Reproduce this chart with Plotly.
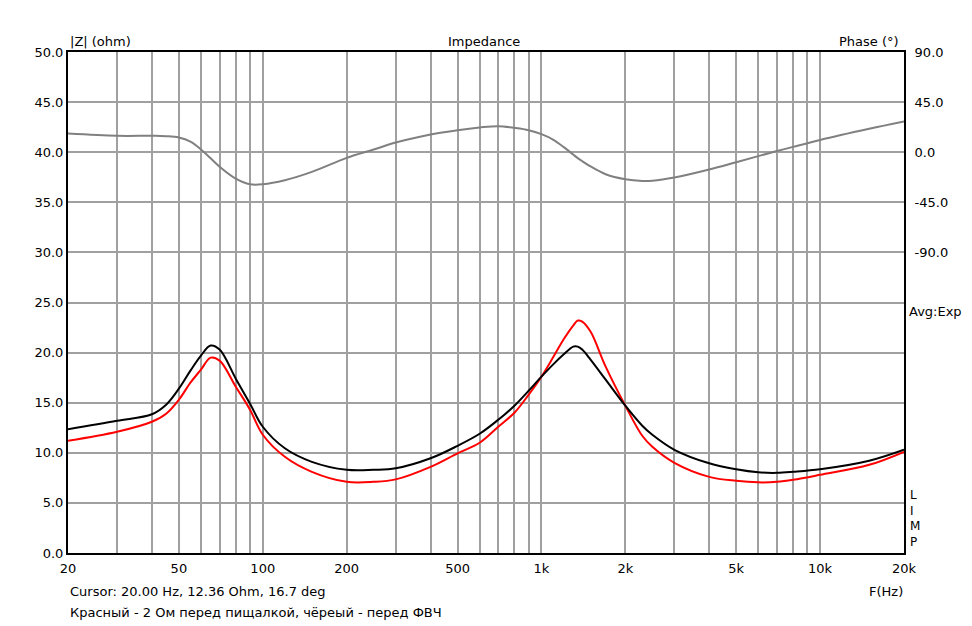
import plotly.graph_objects as go

freq = [20, 30, 40, 45, 50, 55, 60, 65, 70, 80, 90, 100, 120, 150, 200, 250, 300, 400, 500, 600, 700, 800, 900,
        1000, 1100, 1200, 1300, 1350, 1400, 1500, 1700, 2000, 2300, 2500, 3000, 4000, 5000, 6000, 7000, 8000,
        10000, 15000, 20000]
z_black = [12.36, 13.2, 13.85, 14.8, 16.4, 18.2, 19.7, 20.7, 20.3, 17.4, 14.9, 12.6, 10.45, 9.1, 8.3, 8.3, 8.45,
           9.45, 10.7, 11.9, 13.3, 14.7, 16.2, 17.6, 18.8, 19.8, 20.6, 20.6, 20.3, 19.3, 17.3, 14.7, 12.7, 11.8,
           10.3, 8.95, 8.35, 8.05, 8.0, 8.1, 8.35, 9.2, 10.3]
z_red = [11.2, 12.1, 13.1, 13.9, 15.3, 17.0, 18.3, 19.5, 19.2, 16.6, 14.3, 11.8, 9.6, 8.1, 7.1, 7.1, 7.35,
         8.6, 9.95, 11.0, 12.6, 14.0, 15.8, 17.6, 19.5, 21.3, 22.7, 23.2, 23.1, 22.1, 18.6, 14.7, 11.7, 10.6,
         9.0, 7.6, 7.2, 7.05, 7.1, 7.3, 7.8, 8.8, 10.1]
phase = [16.7, 14.7, 14.7, 14.4, 13.2, 9.5, 2.5, -5.5, -13.0, -23.7, -28.8, -28.8, -25.2, -17.7, -5.1, 2.4, 8.7,
         15.9, 19.8, 22.2, 23.4, 21.9, 19.8, 16.2, 11.4, 4.8, -2.1, -5.3, -8.0, -12.8, -19.8, -24.3, -25.8, -25.6,
         -22.8, -15.6, -9.0, -3.5, 1.0, 4.8, 11.0, 21.0, 27.6]

grid_f = [20, 30, 40, 50, 60, 70, 80, 90, 100, 200, 300, 400, 500, 600, 700, 800, 900,
          1000, 2000, 3000, 4000, 5000, 6000, 7000, 8000, 9000, 10000, 20000]
label_map = {20: "20", 50: "50", 100: "100", 200: "200", 500: "500", 1000: "1k", 2000: "2k",
             5000: "5k", 10000: "10k", 20000: "20k"}
grid_text = [label_map.get(f, "") for f in grid_f]
z_ticks = [0, 5, 10, 15, 20, 25, 30, 35, 40, 45, 50]
phase_ticks = [90, 45, 0, -45, -90]

FONT = "DejaVu Sans, Verdana, sans-serif"

fig = go.Figure()
fig.add_trace(go.Scatter(x=freq, y=phase, yaxis="y2", mode="lines",
                         line=dict(color="#808080", width=2, shape="spline", smoothing=1.0),
                         showlegend=False, hoverinfo="skip"))
fig.add_trace(go.Scatter(x=freq, y=z_red, mode="lines",
                         line=dict(color="#ff0000", width=2, shape="spline", smoothing=1.0),
                         showlegend=False))
fig.add_trace(go.Scatter(x=freq, y=z_black, mode="lines",
                         line=dict(color="#000000", width=2, shape="spline", smoothing=1.0),
                         showlegend=False))

fig.update_layout(
    width=972, height=626,
    margin=dict(l=68, r=68, t=52, b=73),
    paper_bgcolor="white", plot_bgcolor="white",
    font=dict(family=FONT, size=13, color="black"),
    xaxis=dict(type="log", range=[1.30103, 4.30103], tickvals=grid_f, ticktext=grid_text,
               showgrid=True, gridcolor="#a0a0a0", gridwidth=2, showline=True, linecolor="black",
               linewidth=2, mirror=True, ticks="outside", ticklen=2, tickcolor="rgba(0,0,0,0)",
               zeroline=False, automargin=False),
    yaxis=dict(range=[0, 50], tickvals=z_ticks, ticktext=[f"{v:.1f}" for v in z_ticks],
               showgrid=True, gridcolor="#a0a0a0", gridwidth=2, showline=True, linecolor="black",
               linewidth=2, mirror=True, ticks="", zeroline=False, automargin=False),
    yaxis2=dict(range=[-360, 90], overlaying="y", side="right", tickvals=phase_ticks,
                ticktext=[f"{v:.1f}" for v in phase_ticks], showgrid=False, zeroline=False,
                showline=False, ticks="outside", ticklen=7, tickcolor="rgba(0,0,0,0)", automargin=False),
)

for a in [
    dict(x=0, y=1, xanchor="left", yanchor="bottom", text="|Z| (ohm)", xshift=0),
    dict(x=0.5, y=1, xanchor="center", yanchor="bottom", text="Impedance", xshift=-2),
    dict(x=1, y=1, xanchor="right", yanchor="bottom", text="Phase (°)", xshift=-3),
]:
    fig.add_annotation(xref="paper", yref="paper", showarrow=False, yshift=1, **a)
fig.add_annotation(xref="paper", yref="paper", x=1, y=0.483, xanchor="left", yanchor="middle",
                   text="Avg:Exp", showarrow=False, xshift=3)
fig.add_annotation(xref="paper", yref="paper", x=1, y=0.0, xanchor="left", yanchor="bottom",
                   text="L<br>I<br>M<br>P", showarrow=False, xshift=4, yshift=2, align="left",
                   font=dict(size=12))
fig.add_annotation(xref="paper", yref="paper", x=0.978, y=0, xanchor="center", yanchor="top",
                   text="F(Hz)", showarrow=False, yshift=-29)
fig.add_annotation(xref="paper", yref="paper", x=0, y=0, xanchor="left", yanchor="top",
                   text="Cursor: 20.00 Hz, 12.36 Ohm, 16.7 deg", showarrow=False, yshift=-29)
fig.add_annotation(xref="paper", yref="paper", x=0, y=0, xanchor="left", yanchor="top",
                   text="Красный - 2 Ом перед пищалкой, чёреый - перед ФВЧ", showarrow=False, yshift=-50)

fig.write_html("out.html", config={"displayModeBar": False},
               post_script="document.body.style.margin='0';document.body.style.overflow='hidden';")
